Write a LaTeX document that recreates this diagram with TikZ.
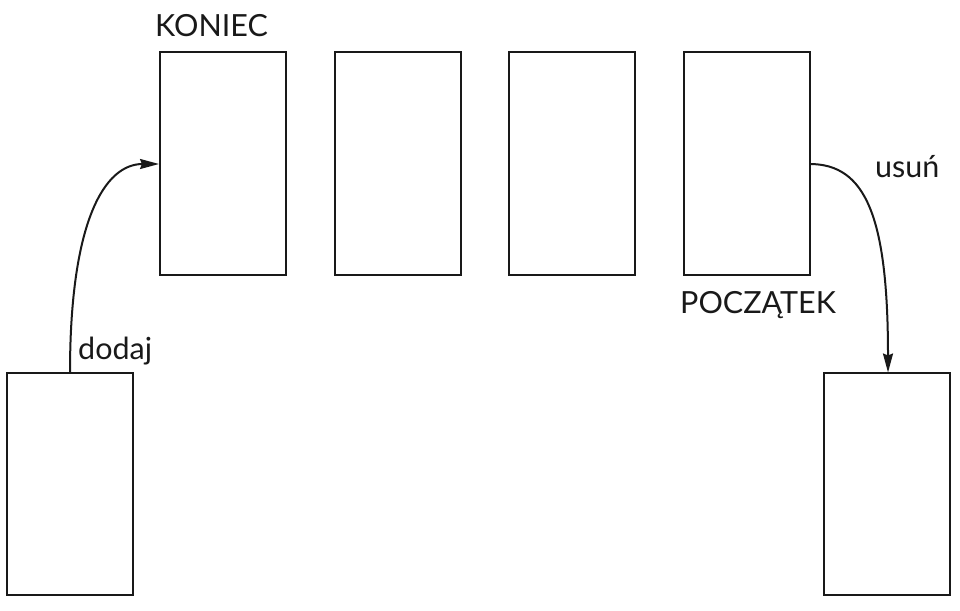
\documentclass[tikz,border=0pt]{standalone}
\usepackage{fontspec}
\setmainfont{Lato}
\usetikzlibrary{arrows.meta}
\begin{document}
\begin{tikzpicture}[x=1pt,y=-1pt,
  cell/.style={draw=black!90,line width=2pt,minimum width=126pt,minimum height=222pt,inner sep=0pt},
  lbl/.style={font=\fontsize{30.5}{33}\selectfont,inner sep=0pt,text=black!90},
  conn/.style={line width=2pt,draw=black!90,-{Stealth[length=19pt,width=10pt,inset=2pt]}}]
\useasboundingbox (0,0) rectangle (960,610);
\node[cell] (k) at (223,163.5) {};
\node[cell] (b2) at (397.5,163.5) {};
\node[cell] (b3) at (571.5,163.5) {};
\node[cell] (p) at (746.5,163.5) {};
\node[cell] (l) at (70,483.5) {};
\node[cell] (r) at (886.5,483.5) {};
\node[lbl,anchor=base west] (tk) at (155,37) {KONIEC};
\node[lbl,anchor=base west] (tp) at (680,313) {POCZĄTEK};
\node[lbl,anchor=base west] (td) at (78,359) {dodaj};
\node[lbl,anchor=base west] (tu) at (875,177) {usuń};
\coordinate (ls) at (70,372.5);
\coordinate (le) at (159,164);
\coordinate (rs) at (809.5,164);
\coordinate (re) at (888,372.5);
\draw[conn] (ls) .. controls (70,220) and (105,164) .. (le);
\draw[conn] (rs) .. controls (865,164) and (888,215) .. (re);
\end{tikzpicture}
\end{document}
